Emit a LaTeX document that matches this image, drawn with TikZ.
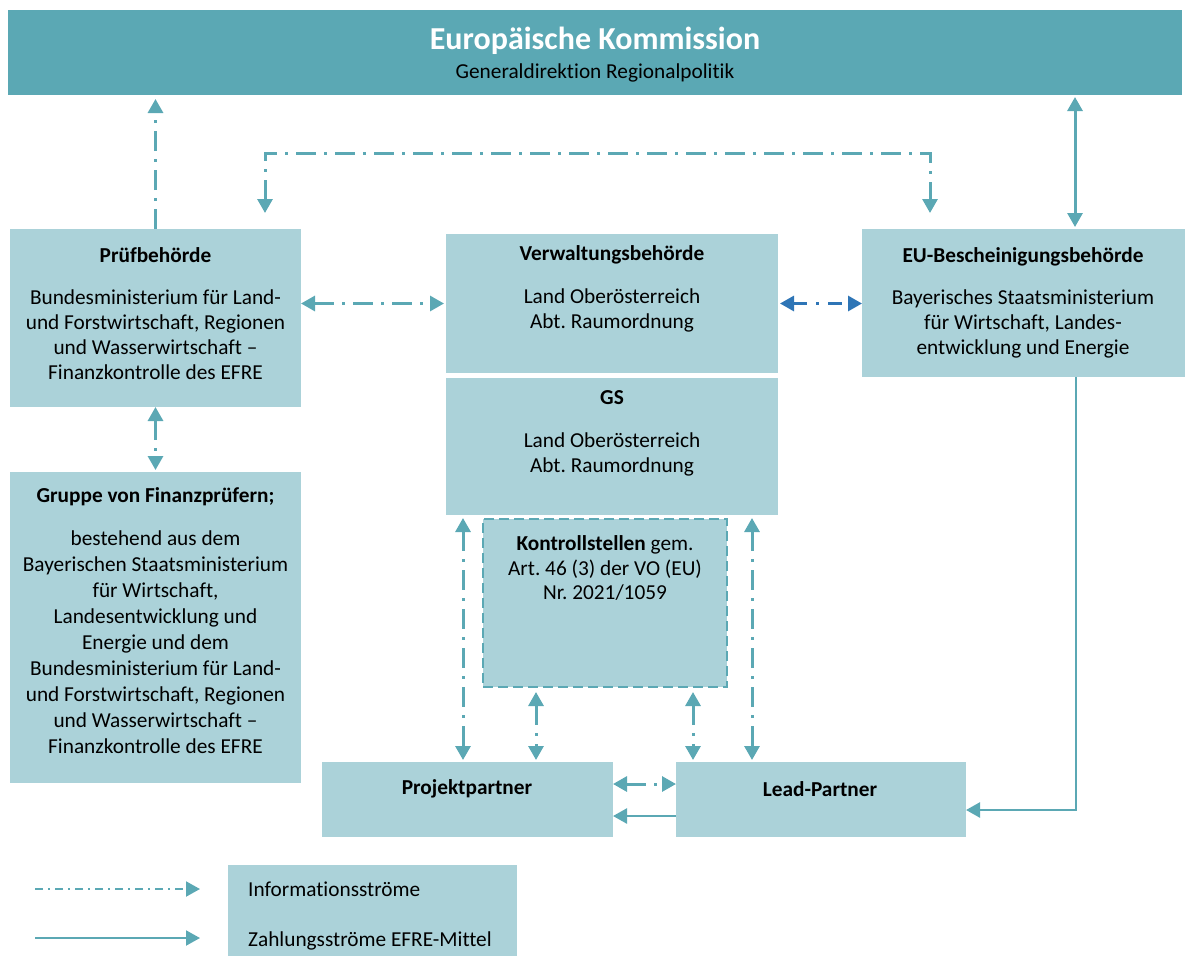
\documentclass[tikz,border=0pt]{standalone}
\usepackage{fontspec}
\setmainfont[Ligatures=NoCommon]{Carlito}
\usetikzlibrary{arrows.meta,calc}
\definecolor{dteal}{HTML}{5BA8B4}
\definecolor{lteal}{HTML}{ABD2D9}
\definecolor{ablue}{HTML}{2E75B6}
\frenchspacing
\begin{document}
\begin{tikzpicture}[x=1pt,y=-1pt,
  box/.style={fill=lteal, draw=none, anchor=north west, inner sep=0pt, outer sep=0pt},
  txt/.style={font=\fontsize{21.3}{25}\selectfont, align=center, inner sep=0pt, text=black},
  hd/.style={font=\fontsize{21.3}{25}\selectfont\bfseries, inner sep=0pt, text=black},
  info/.style={draw=dteal, line width=3pt, dash pattern=on 20pt off 8pt on 3pt off 8pt},
  infoboth/.style={info, {Triangle[width=15pt,length=14pt]}-{Triangle[width=15pt,length=14pt]}},
  infoone/.style={info, -{Triangle[width=15pt,length=14pt]}},
  pay/.style={draw=dteal, line width=2.5pt, -{Triangle[width=15pt,length=14pt]}},
  payboth/.style={draw=dteal, line width=3pt, {Triangle[width=15pt,length=14pt]}-{Triangle[width=15pt,length=14pt]}},
  blueinfo/.style={draw=ablue, line width=3pt, dash pattern=on 14pt off 9pt on 3pt off 9pt, {Triangle[width=15pt,length=14pt]}-{Triangle[width=15pt,length=14pt]}},
]
\useasboundingbox (0,0) rectangle (1185,956);

% boxes
\node[box, fill=dteal, minimum width=1174pt, minimum height=85pt] (ek) at (8,10) {};
\node[box, minimum width=291pt, minimum height=178pt] (pb) at (10,229) {};
\node[box, minimum width=332pt, minimum height=139pt] (vb) at (446,234) {};
\node[box, minimum width=332pt, minimum height=137pt] (gs) at (446,378) {};
\node[box, minimum width=323pt, minimum height=148pt] (eub) at (862,229) {};
\node[box, minimum width=291pt, minimum height=311pt] (gr) at (10,472) {};
\node[box, draw=dteal, line width=2.5pt, dash pattern=on 10pt off 5pt, minimum width=244pt, minimum height=168pt] (ks) at (483,519) {};
\node[box, minimum width=291pt, minimum height=75pt] (pp) at (322,762) {};
\node[box, minimum width=290pt, minimum height=75pt] (lp) at (676,762) {};
\node[box, minimum width=289pt, minimum height=91pt] (lg) at (228,865) {};

% texts
\node[font=\fontsize{32}{36}\selectfont\bfseries, text=white, inner sep=0pt] (ekt) at (595,41) {Europäische Kommission};
\node[txt] (eks) at (595,73) {Generaldirektion Regionalpolitik};

\node[hd] (pbh) at (155.5,255) {Prüfbehörde};
\node[txt] (pbt) at (155.5,335) {Bundesministerium für Land-\\und Forstwirtschaft, Regionen\\und Wasserwirtschaft –\\Finanzkontrolle des EFRE};

\node[hd] (vbh) at (612,255) {Verwaltungsbehörde};
\node[txt] (vbt) at (612,310) {Land Oberösterreich\\Abt. Raumordnung};

\node[hd] (gsh) at (612,398) {GS};
\node[txt] (gst) at (612,454) {Land Oberösterreich\\Abt. Raumordnung};

\node[hd] (eubh) at (1023,257) {EU-Bescheinigungsbehörde};
\node[txt] (eubt) at (1023,324) {Bayerisches Staatsministerium\\für Wirtschaft, Landes-\\entwicklung und Energie};

\node[hd] (grh) at (155.5,497) {Gruppe von Finanzprüfern;};
\node[txt, font=\fontsize{21.3}{26}\selectfont] (grt) at (155.5,642) {bestehend aus dem\\Bayerischen Staatsministerium\\für Wirtschaft,\\Landesentwicklung und\\Energie und dem\\Bundesministerium für Land-\\und Forstwirtschaft, Regionen\\und Wasserwirtschaft –\\Finanzkontrolle des EFRE};

\node[txt, font=\fontsize{21.3}{24.5}\selectfont] (kst) at (605,568) {\textbf{Kontrollstellen} gem.\\Art. 46 (3) der VO (EU)\\Nr. 2021/1059};

\node[hd] (ppt) at (467,789) {Projektpartner};
\node[hd] (lpt) at (820,789) {Lead-Partner};

\node[txt, anchor=west] (lg1) at (248,889) {Informationsströme};
\node[txt, anchor=west] (lg2) at (248,941) {Zahlungsströme EFRE-Mittel};

% helper coordinates
\coordinate (c1) at (265,153);
\coordinate (c2) at (930,153);
\coordinate (c3) at (1075,0);
\coordinate (c4) at (1076,810);
\coordinate (c5) at (0,816);
\coordinate (c6) at (0,784);
\coordinate (c7) at (463,0);
\coordinate (c8) at (752,0);
\coordinate (c9) at (536,0);
\coordinate (c10) at (693,0);
\coordinate (l1a) at (35,889);
\coordinate (l1b) at (200,889);
\coordinate (l2a) at (35,938);
\coordinate (l2b) at (200,938);

% connectors
\draw[infoone, shorten >=4pt] (pb.north) -- (pb.north |- ek.south);
\draw[infoboth, shorten <=16pt, shorten >=16pt] (c1 |- pb.north) -- (c1) -- (c2) -- (c2 |- eub.north);
\draw[infoboth, shorten >=2pt] (vb.west -| pb.east) -- (vb.west);
\draw[blueinfo, shorten <=2pt] (vb.east) -- (vb.east -| eub.west);
\draw[payboth, shorten <=2pt, shorten >=2pt] (c3 |- ek.south) -- (c3 |- eub.north);
\draw[pay] (c4 |- eub.south) -- (c4) -- (c4 -| lp.east);
\draw[pay] (c5 -| lp.west) -- (c5 -| pp.east);
\draw[infoboth] (c6 -| pp.east) -- (c6 -| lp.west);
\draw[infoboth, shorten >=2pt] (pb.south) -- (gr.north);
\draw[infoboth, shorten <=3pt, shorten >=2pt] (c7 |- gs.south) -- (c7 |- pp.north);
\draw[infoboth, shorten <=3pt, shorten >=2pt] (c8 |- gs.south) -- (c8 |- lp.north);
\draw[infoboth, shorten <=5pt, shorten >=2pt] (c9 |- ks.south) -- (c9 |- pp.north);
\draw[infoboth, shorten <=5pt, shorten >=2pt] (c10 |- ks.south) -- (c10 |- lp.north);

% legend
\draw[draw=dteal, line width=2pt, dash pattern=on 8pt off 5pt on 2pt off 5pt, -{Triangle[width=15pt,length=14pt]}] (l1a) -- (l1b);
\draw[draw=dteal, line width=2pt, -{Triangle[width=15pt,length=14pt]}] (l2a) -- (l2b);
\end{tikzpicture}
\end{document}
